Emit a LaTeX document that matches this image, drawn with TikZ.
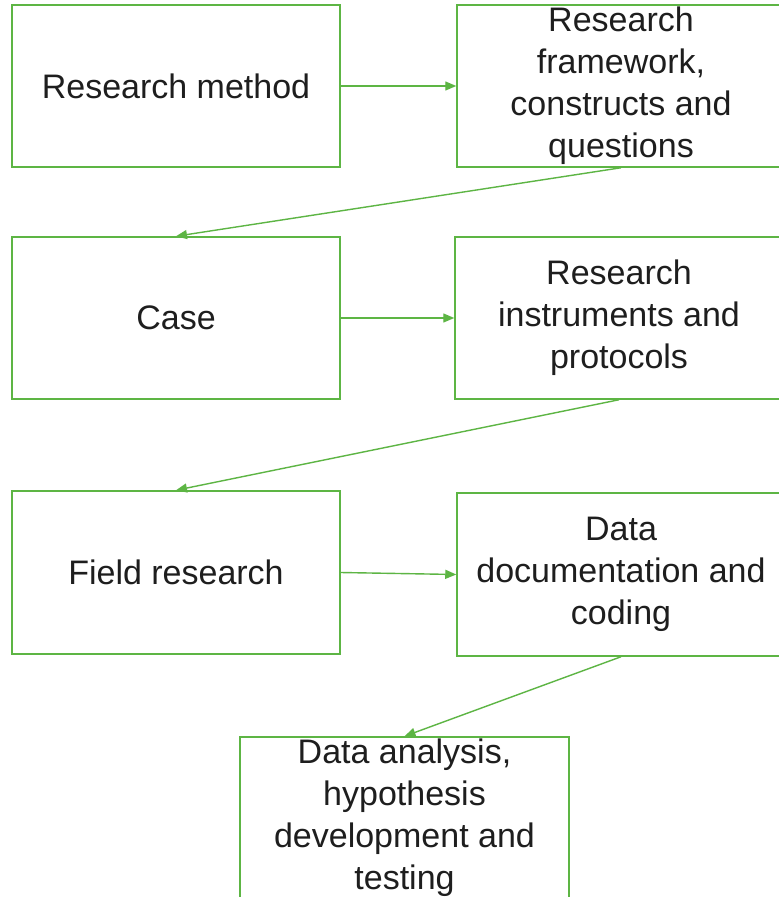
\documentclass[tikz,border=0pt]{standalone}
\usepackage{fontspec}
\setmainfont{Liberation Sans}
\usetikzlibrary{arrows.meta}
\definecolor{boxgreen}{HTML}{5DB544}
\definecolor{txt}{HTML}{1E1E1E}
\begin{document}
\begin{tikzpicture}[x=1pt,y=-1pt,
  box/.style={draw=boxgreen, line width=1.5pt, rectangle, minimum width=328pt, minimum height=162pt,
    align=center, text=txt, font=\fontsize{34}{42}\selectfont, inner sep=0pt},
  conn/.style={draw=boxgreen, line width=1.4pt, -{Triangle[length=11pt,width=9pt]}}]
\useasboundingbox[fill=white] (0,0) rectangle (779,897);
\clip (0,0) rectangle (779,897);
\node[box] (b1) at (176,86) {Research method};
\node[box] (b2) at (621,86) {Research\\framework,\\constructs and\\questions};
\node[box] (b3) at (176,318) {Case};
\node[box] (b4) at (619,318) {Research\\instruments and\\protocols};
\node[box, minimum height=163pt] (b5) at (176,572.5) {Field research};
\node[box, minimum height=163pt] (b6) at (621,574.5) {Data\\documentation and\\coding};
\node[box, minimum width=329pt] (b7) at (404.5,818) {Data analysis,\\hypothesis\\development and\\testing};
\draw[conn] (b1.east) -- (b2.west);
\draw[conn] (b2.south) -- (b3.north);
\draw[conn] (b3.east) -- (b4.west);
\draw[conn] (b4.south) -- (b5.north);
\draw[conn] (b5.east) -- (b6.west);
\draw[conn] (b6.south) -- (b7.north);
\end{tikzpicture}
\end{document}
